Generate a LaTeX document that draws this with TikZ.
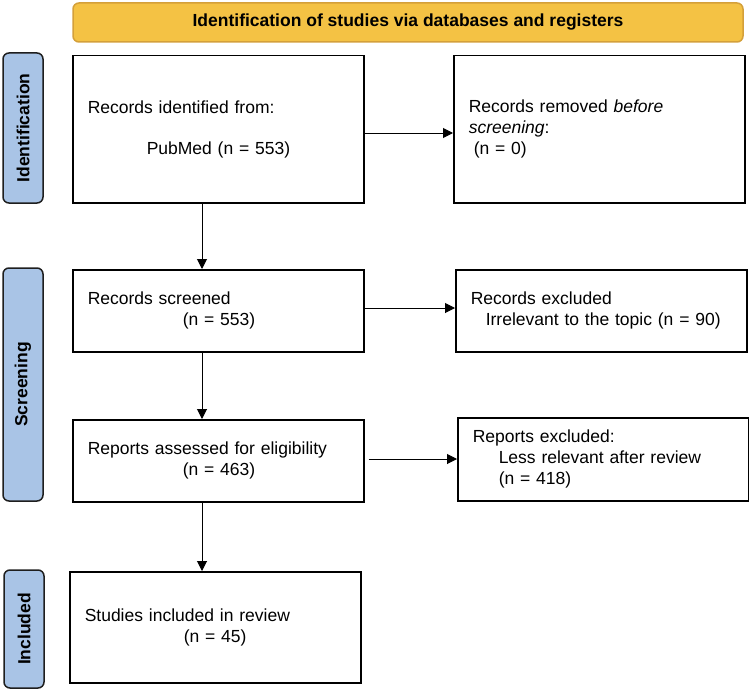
\documentclass[tikz,border=0pt]{standalone}
\usepackage{fontspec}
\setmainfont{Liberation Sans}
\usetikzlibrary{arrows.meta}
\definecolor{bannerfill}{HTML}{F4C244}
\definecolor{bannerline}{HTML}{D4A03A}
\definecolor{stagefill}{HTML}{A9C4E6}
\definecolor{stageline}{HTML}{1E1E1E}
\newcommand\flowsize{\fontsize{17.5}{21}\selectfont}

\tikzset{
  box/.style={draw, line width=1.5pt, anchor=north west, align=left, text width=261pt, inner xsep=15pt, inner ysep=0pt, minimum width=291pt},
  stage/.style={draw=stageline, fill=stagefill, line width=1.5pt, rounded corners=6pt, font=\flowsize\bfseries, rotate=90, inner sep=0pt, minimum height=40pt},
  banner/.style={draw=bannerline, fill=bannerfill, line width=1.5pt, rounded corners=6pt, font=\flowsize\bfseries, minimum width=670pt, minimum height=39pt},
  arr/.style={line width=1pt, -{Triangle[length=10pt,width=10pt]}},
}

\begin{document}
\begin{tikzpicture}[x=1pt,y=-1pt,font=\flowsize]
			%%%%% START %%%%%
			\useasboundingbox (0,0) rectangle (749,690);
			
			\node[banner] (head) at (408,22.5) {Identification of studies via databases and registers};
			
			\node[stage, minimum width=150pt] (ident) at (23,128) {Identification};
			\node[stage, minimum width=233pt] (screen) at (23,384.5) {Screening};
			\node[stage, minimum width=118pt] (incl) at (24,629) {Included};
			
			\node[box, minimum height=147pt] (idbox) at (72,55) {Records identified from:\\[20pt]\hspace*{59pt}PubMed (n = 553)};
			\node[box, minimum height=147pt] (rmbox) at (453,55) {Records removed \textit{before}\\\textit{screening}:\\\hspace*{5pt}(n = 0)};
			
			\node[box, minimum height=82pt] (scrbox) at (72,269) {Records screened\\\hspace*{95pt}(n = 553)};
			\node[box, minimum height=82pt] (exbox) at (455,269) {Records excluded\\\hspace*{15pt}Irrelevant to the topic (n = 90)};
			
			\node[box, minimum height=82pt] (elbox) at (72,419) {Reports assessed for eligibility\\\hspace*{95pt}(n = 463)};
			\node[box, minimum height=83pt] (repbox) at (457,417) {Reports excluded:\\\hspace*{26pt}Less relevant after review\\\hspace*{26pt}(n = 418)};
			
			\node[box, minimum height=111pt] (incbox) at (69,571) {Studies included in review\\\hspace*{99pt}(n = 45)};
			
			\coordinate (spine) at (202,0);
			\coordinate (row1) at (0,133);
			\coordinate (row2) at (0,308);
			\coordinate (row3) at (0,459);
			
			\draw[arr] (idbox.south -| spine) -- (scrbox.north -| spine);
			\draw[arr] (scrbox.south -| spine) -- (elbox.north -| spine);
			\draw[arr] (elbox.south -| spine) -- (incbox.north -| spine);
			
			\draw[arr] (idbox.east |- row1) -- (rmbox.west |- row1);
			\draw[arr] (scrbox.east |- row2) -- (exbox.west |- row2);
			\draw[arr, shorten <=4pt] (elbox.east |- row3) -- (repbox.west |- row3);
			
			%%%%% END %%%%%
\end{tikzpicture}
\end{document}
